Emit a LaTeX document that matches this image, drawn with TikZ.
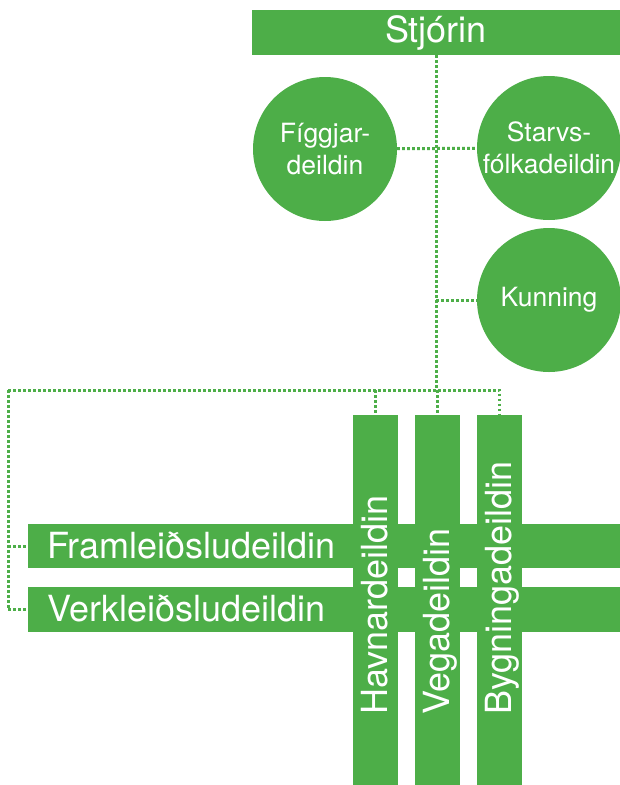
\documentclass[tikz,border=0pt]{standalone}
\usepackage{fontspec}
\setmainfont{TeX Gyre Heros}
\usetikzlibrary{positioning}
\definecolor{ngreen}{RGB}{77,174,72}
\newcommand{\bigfont}{\fontsize{36}{42}\selectfont}
\newcommand{\circfont}{\fontsize{26.5}{31.5}\selectfont}

\begin{document}
\begin{tikzpicture}[x=1pt, y=-1pt,
	bar/.style={fill=ngreen, inner sep=0pt, text=white, font=\bigfont},
	unit/.style={circle, fill=ngreen, minimum size=144pt, inner sep=0pt, text=white, align=center, font=\circfont},
	link/.style={draw=ngreen, line width=3pt, dash pattern=on 2.6pt off 2.4pt},
	bartext/.style={text=white, font=\bigfont, inner sep=0pt}]
			\useasboundingbox (0,0) rectangle (619,785);
			% 顶部
			\node[bar, minimum width=368pt, minimum height=45pt] (stjorin) at (436,32.5) {Stjórin};
			% 圆形部门
			\node[unit] (figg) at (325,149) {Fíggjar-\\deildin};
			\node[unit] (starv) at (549,148) {Starvs-\\fólkadeildin};
			\node[unit] (kunn) at (549,300) {Kunning};
			% 横条
			\node[bar, minimum width=592pt, minimum height=44pt] (fram) at (324,546) {};
			\node[bar, minimum width=592pt, minimum height=45pt] (verk) at (324,609.5) {};
			\node[bartext, anchor=base west] (fram-label) at (47,558) {Framleiðsludeildin};
			\node[bartext, anchor=base west] (verk-label) at (47,621) {Verkleiðsludeildin};
			% 竖条
			\foreach \n/\x/\t in {havn/375.5/Havnardeildin, vega/437.5/Vegadeildin, bygg/499.5/Bygningadeildin} {
				\node[bar, minimum width=45pt, minimum height=372pt] (\n) at (\x,601) {};
				\node[bartext, rotate=90, anchor=base west] (\n-label) at (\x+11.5,715) {\t};
			}
			% 连线
			\coordinate (hub) at (436,390);
			\coordinate (corner) at (8,390);
			\draw[link] (stjorin) -- (hub);
			\draw[link] (figg) -- (starv);
			\draw[link] (stjorin.south |- kunn) -- (kunn);
			\draw[link] (corner) -- (hub -| bygg.north) -- (bygg.north);
			\foreach \n in {havn,vega} {
				\draw[link] (hub -| \n.north) -- (\n.north);
			}
			\draw[link] (corner) |- (verk.west);
			\draw[link] (corner |- fram) -- (fram.west);
		\end{tikzpicture}
\end{document}
